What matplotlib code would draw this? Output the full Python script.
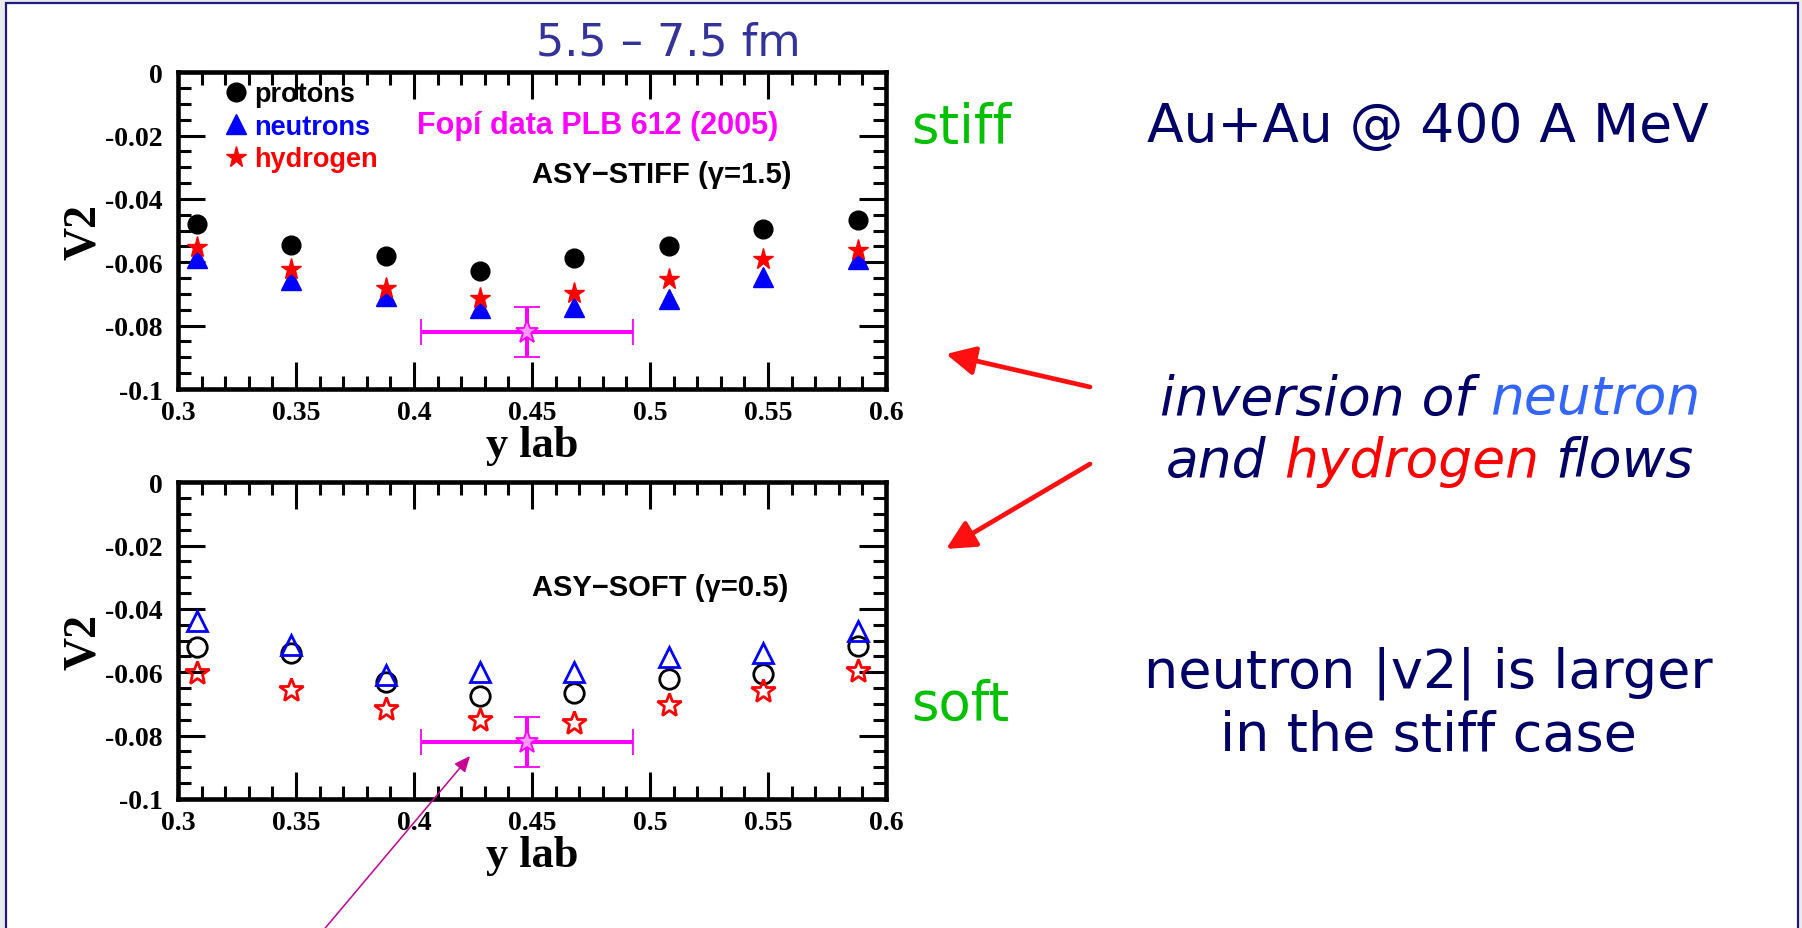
import matplotlib
matplotlib.use("Agg")
import matplotlib.pyplot as plt
from matplotlib.patches import Rectangle, FancyArrowPatch
from matplotlib.ticker import MultipleLocator, FixedLocator, FixedFormatter

# ---------------- data ----------------
y_lab = [0.308, 0.348, 0.388, 0.428, 0.468, 0.508, 0.548, 0.588]

stiff_protons = [-0.0480, -0.0545, -0.0580, -0.0627, -0.0585, -0.0550, -0.0495, -0.0465]
stiff_neutrons = [-0.0585, -0.0657, -0.0705, -0.0743, -0.0742, -0.0717, -0.0647, -0.0590]
stiff_hydrogen = [-0.0553, -0.0621, -0.0682, -0.0713, -0.0696, -0.0652, -0.0588, -0.0562]

soft_protons = [-0.0521, -0.0540, -0.0630, -0.0676, -0.0666, -0.0621, -0.0605, -0.0518]
soft_neutrons = [-0.0437, -0.0515, -0.0610, -0.0600, -0.0598, -0.0553, -0.0539, -0.0468]
soft_hydrogen = [-0.0602, -0.0656, -0.0717, -0.0750, -0.0760, -0.0703, -0.0660, -0.0597]

fopi_x = [0.448]
fopi_v2 = [-0.082]
fopi_xerr = [0.045]
fopi_yerr = [0.008]

x_ticks = [0.3, 0.35, 0.4, 0.45, 0.5, 0.55, 0.6]
x_ticklabels = ["0.3", "0.35", "0.4", "0.45", "0.5", "0.55", "0.6"]
y_ticks = [0.0, -0.02, -0.04, -0.06, -0.08, -0.1]
y_ticklabels = ["0", "-0.02", "-0.04", "-0.06", "-0.08", "-0.1"]

legend_labels = ["protons", "neutrons", "hydrogen"]

# ---------------- layout ----------------
W, H = 1802, 929
DPI = 100
NAVY = "#000066"
GREEN = "#00c000"
MAG = "#ff00ff"

plt.rcParams["font.family"] = ["Liberation Serif", "DejaVu Serif"]

fig = plt.figure(figsize=(W / DPI, H / DPI), dpi=DPI, facecolor="#ebebeb")
fig.add_artist(Rectangle((6 / W, -0.05), (1798 - 6) / W, 1.05 - 4 / H,
                         transform=fig.transFigure, facecolor="white",
                         edgecolor="#1c1c80", lw=1.6, zorder=0))


def px_rect(l, t, r, b):
    return [l / W, 1 - b / H, (r - l) / W, (b - t) / H]


def fx(x):
    return x / W


def fy(y):
    return 1 - y / H


def setup(ax):
    ax.set_xlim(0.3, 0.6)
    ax.set_ylim(-0.1, 0.0)
    ax.xaxis.set_major_locator(FixedLocator(x_ticks))
    ax.xaxis.set_major_formatter(FixedFormatter(x_ticklabels))
    ax.yaxis.set_major_locator(FixedLocator(y_ticks))
    ax.yaxis.set_major_formatter(FixedFormatter(y_ticklabels))
    ax.xaxis.set_minor_locator(MultipleLocator(0.01))
    ax.yaxis.set_minor_locator(MultipleLocator(0.005))
    ax.tick_params(which="both", direction="in", top=True, right=True,
                   width=2.2, colors="black")
    ax.tick_params(which="major", length=19.5)
    ax.tick_params(which="minor", length=9.5)
    ax.tick_params(axis="x", which="major", pad=8, labelsize=20)
    ax.tick_params(axis="y", which="major", pad=11, labelsize=20)
    for t in ax.get_xticklabels() + ax.get_yticklabels():
        t.set_fontweight("bold")
    for s in ax.spines.values():
        s.set_linewidth(3.3)
    ax.set_xlabel("y lab", fontsize=32, fontweight="bold", labelpad=0)
    ax.set_ylabel("V2", fontsize=33, fontweight="bold", labelpad=0)
    ax.patch.set_alpha(0)


def fopi(ax):
    ax.errorbar(fopi_x, fopi_v2, xerr=fopi_xerr, yerr=fopi_yerr, fmt="*",
                ms=17, mfc="#ff99ff", mec=MAG, mew=1.3, ecolor=MAG,
                elinewidth=2.9, capsize=9.5, capthick=2.9, zorder=5)


# ---- top panel (ASY-STIFF) ----
ax1 = fig.add_axes(px_rect(178, 73.3, 886, 390))
setup(ax1)
hn, = ax1.plot(y_lab, stiff_neutrons, "^", ms=14.5, color="blue", mec="blue", zorder=3)
hh, = ax1.plot(y_lab, stiff_hydrogen, "*", ms=15.5, color="red", mec="red", zorder=4)
hp, = ax1.plot(y_lab, stiff_protons, "o", ms=13.5, color="black", zorder=4)
fopi(ax1)
ax1.legend([hp, hn, hh], legend_labels, loc="upper left",
           bbox_to_anchor=(0.067, 0.972), borderpad=0, borderaxespad=0,
           frameon=False, handlelength=0.8, handletextpad=0.26,
           labelspacing=0.24, labelcolor=["black", "blue", "red"],
           prop={"family": "Liberation Sans", "weight": "bold", "size": 19.5})

# ---- bottom panel (ASY-SOFT) ----
ax2 = fig.add_axes(px_rect(178, 483.3, 886, 800))
setup(ax2)
ax2.plot(y_lab, soft_protons, "o", ms=14, mfc="none", mec="black", mew=2.0, zorder=3)
ax2.plot(y_lab, soft_neutrons, "^", ms=15, mfc="none", mec="blue", mew=2.0, zorder=4)
ax2.plot(y_lab, soft_hydrogen, "*", ms=18, mfc="none", mec="red", mew=2.0, zorder=4)
fopi(ax2)

# ---- texts inside panels ----
fig.text(fx(417), fy(134), "Fopí data PLB 612 (2005)", color=MAG,
         family="Liberation Sans", weight="bold", fontsize=22, va="baseline")
fig.text(fx(532), fy(175), "ASY\u2212STIFF (γ=1.5)", color="black",
         family="Liberation Sans", weight="bold", fontsize=21, va="center")
fig.text(fx(532), fy(588), "ASY\u2212SOFT (γ=0.5)", color="black",
         family="Liberation Sans", weight="bold", fontsize=21, va="center")

# ---- slide texts ----
SANS = ["DejaVu Sans"]
fig.text(fx(668), fy(56), "5.5 \u2013 7.5 fm", color="#333399", family=SANS,
         fontsize=32, ha="center", va="baseline")
fig.text(fx(911), fy(143), "stiff", color=GREEN, family=SANS, fontsize=38,
         ha="left", va="baseline")
fig.text(fx(911), fy(720), "soft", color=GREEN, family=SANS, fontsize=38,
         ha="left", va="baseline")
fig.text(fx(1428), fy(142), "Au+Au @ 400 A MeV", color=NAVY, family=SANS,
         fontsize=38.5, ha="center", va="baseline")
fig.text(fx(1428), fy(688), "neutron |v2| is larger", color=NAVY, family=SANS,
         fontsize=39, ha="center", va="baseline")
fig.text(fx(1428), fy(751), "in the stiff case", color=NAVY, family=SANS,
         fontsize=39, ha="center", va="baseline")

renderer = fig.canvas.get_renderer()


def colored_line(cx, ybase, pieces, **kw):
    texts = []
    for s, c in pieces:
        t = fig.text(0, fy(ybase), s, color=c, va="baseline", ha="left", **kw)
        texts.append(t)
    a = fig.text(0, 0, "n n", **kw)
    b = fig.text(0, 0, "nn", **kw)
    sp = a.get_window_extent(renderer).width - b.get_window_extent(renderer).width
    a.remove()
    b.remove()
    widths = [t.get_window_extent(renderer).width for t in texts]
    total = sum(widths) + sp * (len(texts) - 1)
    x = cx - total / 2
    for t, w in zip(texts, widths):
        t.set_x(fx(x))
        x += w + sp


IT = dict(family=SANS, fontsize=38.5, style="italic")
colored_line(1430, 415, [("inversion of", NAVY), ("neutron", "#3366ff")], **IT)
colored_line(1430, 477, [("and", NAVY), ("hydrogen", "#ff0000"), ("flows", NAVY)], **IT)

# ---- arrows ----
def fig_arrow(x0, y0, x1, y1, color, lw, style, ms):
    fig.add_artist(FancyArrowPatch((fx(x0), fy(y0)), (fx(x1), fy(y1)),
                                   transform=fig.transFigure, arrowstyle=style,
                                   mutation_scale=ms, color=color, lw=lw,
                                   shrinkA=0, shrinkB=0, zorder=10))


fig_arrow(1090, 388, 946, 355, "#ff1010", 3.4, "-|>,head_length=0.5,head_width=0.25", 35)
fig_arrow(1090, 465, 946, 550, "#ff1010", 3.4, "-|>,head_length=0.5,head_width=0.25", 35)
fig_arrow(316, 940, 470, 757, "#c80096", 1.1, "-|>,head_length=0.8,head_width=0.35", 12)

fig.savefig("out.png", dpi=DPI, facecolor=fig.get_facecolor())
